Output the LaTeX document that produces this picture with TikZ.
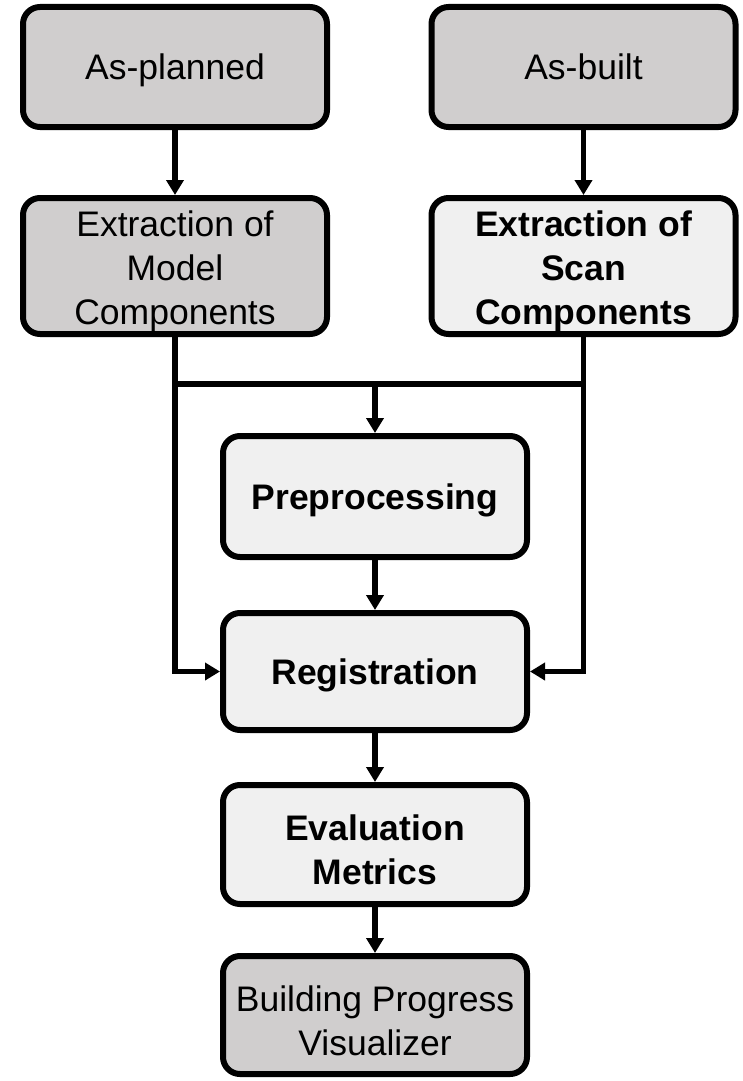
\documentclass[tikz,border=0pt]{standalone}
\usepackage{fontspec}
\setmainfont{Liberation Sans}
\usetikzlibrary{arrows.meta}
\definecolor{boxdark}{HTML}{D0CECE}
\definecolor{boxlight}{HTML}{F0F0F0}
% strut that gives multi-line labels the same top room as single-line ones
\newcommand{\toproom}{\rule{0pt}{37pt}}
\begin{document}
\begin{tikzpicture}[x=1pt,y=-1pt,
  box/.style={draw=black, line width=6pt, rounded corners=17pt, minimum width=304pt,
    font=\fontsize{35.5}{44}\selectfont, inner sep=0pt},
  darkbox/.style={box, fill=boxdark},
  lightbox/.style={box, fill=boxlight, font=\fontsize{35.5}{44}\selectfont\bfseries},
  oneline/.style={text height=37pt, text depth=11.6pt},
  multiline/.style={align=center},
  link/.style={line width=5.5pt, -{Triangle[length=15pt,width=17pt]}},
  wire/.style={line width=5.5pt}]
\useasboundingbox (0,0) rectangle (742,1081);
\node[darkbox, oneline, minimum height=120pt] (ap) at (175,67) {As-planned};
\node[darkbox, multiline, minimum height=136pt] (em) at (175,266) {\toproom Extraction of\\Model\\Components};
\node[darkbox, oneline, minimum height=120pt] (ab) at (583.5,67) {As-built};
\node[lightbox, multiline, minimum height=136pt] (es) at (583.5,266) {\toproom Extraction of\\Scan\\Components};
\node[lightbox, oneline, minimum height=121pt] (pre) at (375,496.5) {Preprocessing};
\node[lightbox, oneline, minimum height=117pt] (reg) at (375,671.5) {Registration};
\node[lightbox, multiline, minimum height=119pt] (ev) at (375,844.5) {\toproom Evaluation\\Metrics};
\node[darkbox, multiline, minimum height=118pt] (bp) at (375,1015) {\toproom Building Progress\\Visualizer};
\coordinate (j) at (375,384);
\draw[link] (ap) -- (em);
\draw[link] (ab) -- (es);
\draw[wire] (em.south |- j) -- (es.south |- j);
\draw[link] (j) -- (pre);
\draw[link] (pre) -- (reg);
\draw[link] (em.south) |- (reg.west);
\draw[link] (es.south) |- (reg.east);
\draw[link] (reg) -- (ev);
\draw[link] (ev) -- (bp);
\end{tikzpicture}
\end{document}
